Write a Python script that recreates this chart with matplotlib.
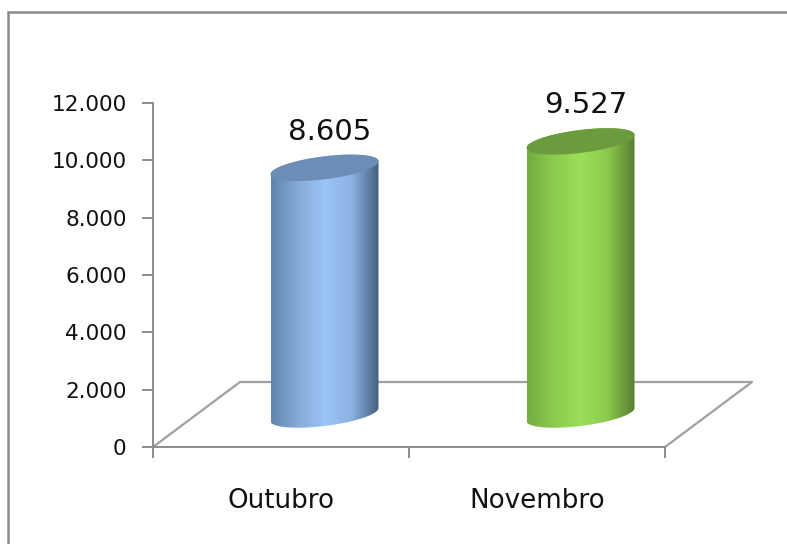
import numpy as np
import matplotlib
matplotlib.use("Agg")
import matplotlib.pyplot as plt
from matplotlib.colors import LinearSegmentedColormap
from matplotlib.patches import Polygon, Rectangle

plt.rcParams['font.family'] = ['DejaVu Sans']

# Data
categories = ["Outubro", "Novembro"]
values = [8605, 9527]
y_ticks = [0, 2000, 4000, 6000, 8000, 10000, 12000]

# Shades of each cylinder, left to right, and its top
side_colors = [
    ["#5f84ad", "#86abd9", "#9cc4f6", "#8cb2e2", "#43607f"],
    ["#74ab42", "#8ccb4e", "#9bdf5a", "#8cc94e", "#587d31"],
]
top_colors = ["#6b8db6", "#6b9b3d"]
line_color = "#8c8c8c"

W, H = 787, 544
LEFT, RIGHT, BOTTOM, TOP = 153, 665, 447, 103  # plot area in pixels

fig = plt.figure(figsize=(W / 100, H / 100), dpi=100)
ax = fig.add_axes([LEFT / W, 1 - BOTTOM / H, (RIGHT - LEFT) / W, (BOTTOM - TOP) / H])
ax.set_xlim(0, len(categories))
ax.set_ylim(0, 12000)

# Pixel sizes turned into data units
px_x = len(categories) / (RIGHT - LEFT)
px_y = 12000 / (BOTTOM - TOP)
depth_x, depth_y = 87 * px_x, 65 * px_y


def ellipse(cx, cy, t):
    # tilted ellipse used for both ends of a cylinder
    return (cx + 54 * np.cos(t) * px_x,
            cy + (6.5 * np.cos(t) + 11.5 * np.sin(t)) * px_y)


# Floor
floor_x = [0, depth_x, len(categories) + depth_x, len(categories)]
floor_y = [0, depth_y, depth_y, 0]
ax.plot(floor_x, floor_y, color="#a0a0a0", lw=1.6, clip_on=False, zorder=1)

# Cylinders
for i, (name, val) in enumerate(zip(categories, values)):
    cx = i + 0.5 + depth_x / 2
    base = depth_y / 2
    top = base + val

    # outline: left side up, over the top, right side down, round the bottom
    t_up = np.linspace(np.pi, 0, 80)
    t_low = np.linspace(0, -np.pi, 80)
    x_top, y_top = ellipse(cx, top, t_up)
    x_low, y_low = ellipse(cx, base, t_low)
    outline = Polygon(np.column_stack([np.r_[x_top, x_low], np.r_[y_top, y_low]]),
                      closed=True, transform=ax.transData, fc="none", ec="none")
    ax.add_patch(outline)

    cmap = LinearSegmentedColormap.from_list("side" + name, side_colors[i])
    im = ax.imshow(np.linspace(0, 1, 256).reshape(1, -1), cmap=cmap, aspect="auto",
                   extent=[cx - 54 * px_x, cx + 54 * px_x, 0, 12000], zorder=2)
    im.set_clip_path(outline)

    x_cap, y_cap = ellipse(cx, top, np.linspace(0, 2 * np.pi, 160))
    ax.fill(x_cap, y_cap, color=top_colors[i], lw=0, zorder=3)

    label = f"{val:,.0f}".replace(",", ".")
    ax.text(cx + 5 * px_x, top + 36 * px_y, label, ha="center", va="center",
            fontsize=21, color="#111111", zorder=4)

ax.set_xlim(0, len(categories))
ax.set_ylim(0, 12000)

# Axes
for side in ["top", "right"]:
    ax.spines[side].set_visible(False)
for side in ["left", "bottom"]:
    ax.spines[side].set_color(line_color)
    ax.spines[side].set_linewidth(1.4)
ax.patch.set_alpha(0)

ax.set_yticks(y_ticks)
ax.set_yticklabels([f"{v:,.0f}".replace(",", ".") for v in y_ticks], fontsize=15.6, color="#111111")
ax.tick_params(axis="y", length=8, width=1.4, color=line_color, pad=11)

ax.set_xticks(range(len(categories) + 1))
ax.set_xticklabels([])
ax.tick_params(axis="x", which="major", length=8, width=1.4, color=line_color)
ax.set_xticks([i + 0.5 for i in range(len(categories))], minor=True)
ax.set_xticklabels(categories, minor=True, fontsize=18.8, color="#111111")
ax.tick_params(axis="x", which="minor", length=0, pad=29.5)

# Chart border, runs off the right and bottom of the image
fig.add_artist(Rectangle((7.5 / W, -0.1), 1.1, 0.1 + 1 - 12.5 / H, transform=fig.transFigure,
                         fc="none", ec="#8c8c8c", lw=1.8))

fig.savefig("out.png", dpi=100)
